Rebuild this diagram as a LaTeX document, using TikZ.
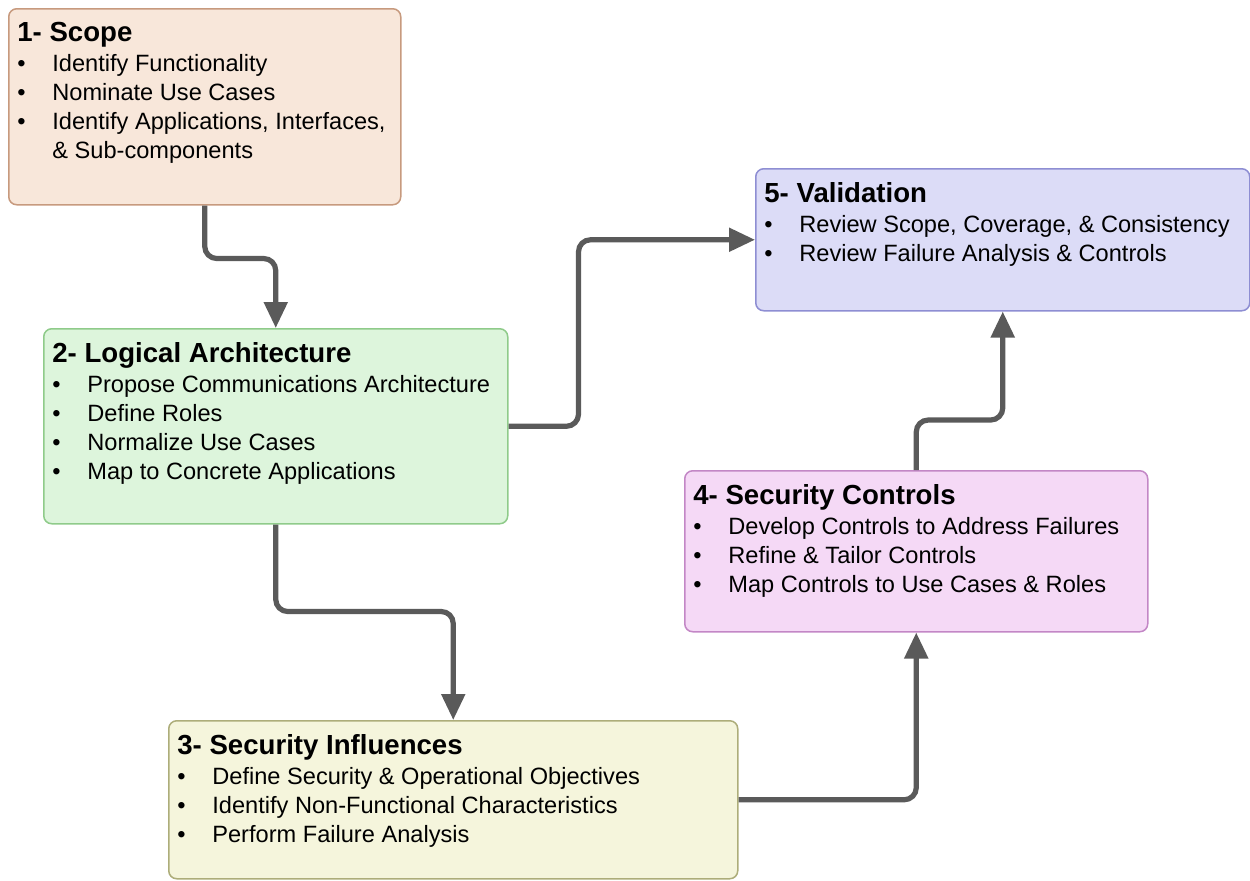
\documentclass[tikz,border=0pt]{standalone}
\usepackage{fontspec}
\setmainfont{Liberation Sans}
\usepackage{tikz}
\usetikzlibrary{arrows.meta, calc, positioning}

\definecolor{scopefill}{HTML}{F8E7DA}
\definecolor{scopedraw}{HTML}{C79A7E}
\definecolor{logicfill}{HTML}{DDF5DC}
\definecolor{logicdraw}{HTML}{8FCB8A}
\definecolor{inflfill}{HTML}{F5F5DC}
\definecolor{infldraw}{HTML}{ADAD7A}
\definecolor{ctrlfill}{HTML}{F5D9F6}
\definecolor{ctrldraw}{HTML}{C387C6}
\definecolor{validfill}{HTML}{DCDCF7}
\definecolor{validdraw}{HTML}{8E8ED3}
\definecolor{arrowgray}{HTML}{5A5A5A}

\newcommand{\bitem}{\makebox[17.5pt][l]{\textbullet}}
\newcommand{\stagetitle}[1]{{\fontsize{13.8}{15}\selectfont\bfseries #1}}

\begin{document}
\begin{tikzpicture}[x=0.5pt, y=-0.5pt,
			stage/.append style={shape=rectangle,
				rounded corners=4pt,
				line width=0.75pt,
				anchor=north west,
			inner sep=0},
			stagetext/.style={anchor=north west, inner sep=0, align=left,
			font=\fontsize{11.8}{14.5}\selectfont},
			flow/.style={draw=arrowgray, line width=2.6pt, rounded corners=6pt,
			-{Triangle[length=13pt, width=11.5pt]}}]
			
			\useasboundingbox (0, 0) rectangle (1250, 880);
			
			\node[stage, fill=scopefill, draw=scopedraw, minimum width=196pt, minimum height=98pt] at (8, 8) (scope){};
			\node[stage, fill=logicfill, draw=logicdraw, minimum width=232pt, minimum height=97.5pt] at (43, 328) (logic){};
			\node[stage, fill=inflfill, draw=infldraw, minimum width=284.5pt, minimum height=79pt] at (168, 720) (infl){};
			\node[stage, fill=ctrlfill, draw=ctrldraw, minimum width=231.5pt, minimum height=80.5pt] at (684, 470) (ctrl){};
			\node[stage, fill=validfill, draw=validdraw, minimum width=247pt, minimum height=71pt] at (755, 168) (valid){};
			
			\node[stagetext] at ($(scope.north west)+(9, 14)$) (scopetxt){\stagetitle{1- Scope}\\[0.6pt]
				\bitem Identify Functionality\\
				\bitem Nominate Use Cases\\
				\bitem Identify Applications, Interfaces,\\
				\hspace*{17.5pt}\& Sub-components};
			\node[stagetext] at ($(logic.north west)+(9, 14)$) (logictxt){\stagetitle{2- Logical Architecture}\\[0.6pt]
				\bitem Propose Communications Architecture\\
				\bitem Define Roles\\
				\bitem Normalize Use Cases\\
				\bitem Map to Concrete Applications};
			\node[stagetext] at ($(infl.north west)+(9, 14)$) (infltxt){\stagetitle{3- Security Influences}\\[0.6pt]
				\bitem Define Security \& Operational Objectives\\
				\bitem Identify Non-Functional Characteristics\\
				\bitem Perform Failure Analysis};
			\node[stagetext] at ($(ctrl.north west)+(9, 14)$) (ctrltxt){\stagetitle{4- Security Controls}\\[0.6pt]
				\bitem Develop Controls to Address Failures\\
				\bitem Refine \& Tailor Controls\\
				\bitem Map Controls to Use Cases \& Roles};
			\node[stagetext] at ($(valid.north west)+(9, 14)$) (validtxt){\stagetitle{5- Validation}\\[0.6pt]
				\bitem Review Scope, Coverage, \& Consistency\\
				\bitem Review Failure Analysis \& Controls};
			
			\draw[flow] (scope.south) -- ++(0, 53) -| (logic.north);
			\draw[flow] (logic.east) -- ++(70, 0) |- (valid.west);
			\draw[flow] (logic.south) -- ++(0, 87) -| (infl.north);
			\draw[flow] (infl.east) -| (ctrl.south);
			\draw[flow] (ctrl.north) -- ++(0, -50) -| (valid.south);
		\end{tikzpicture}
\end{document}
